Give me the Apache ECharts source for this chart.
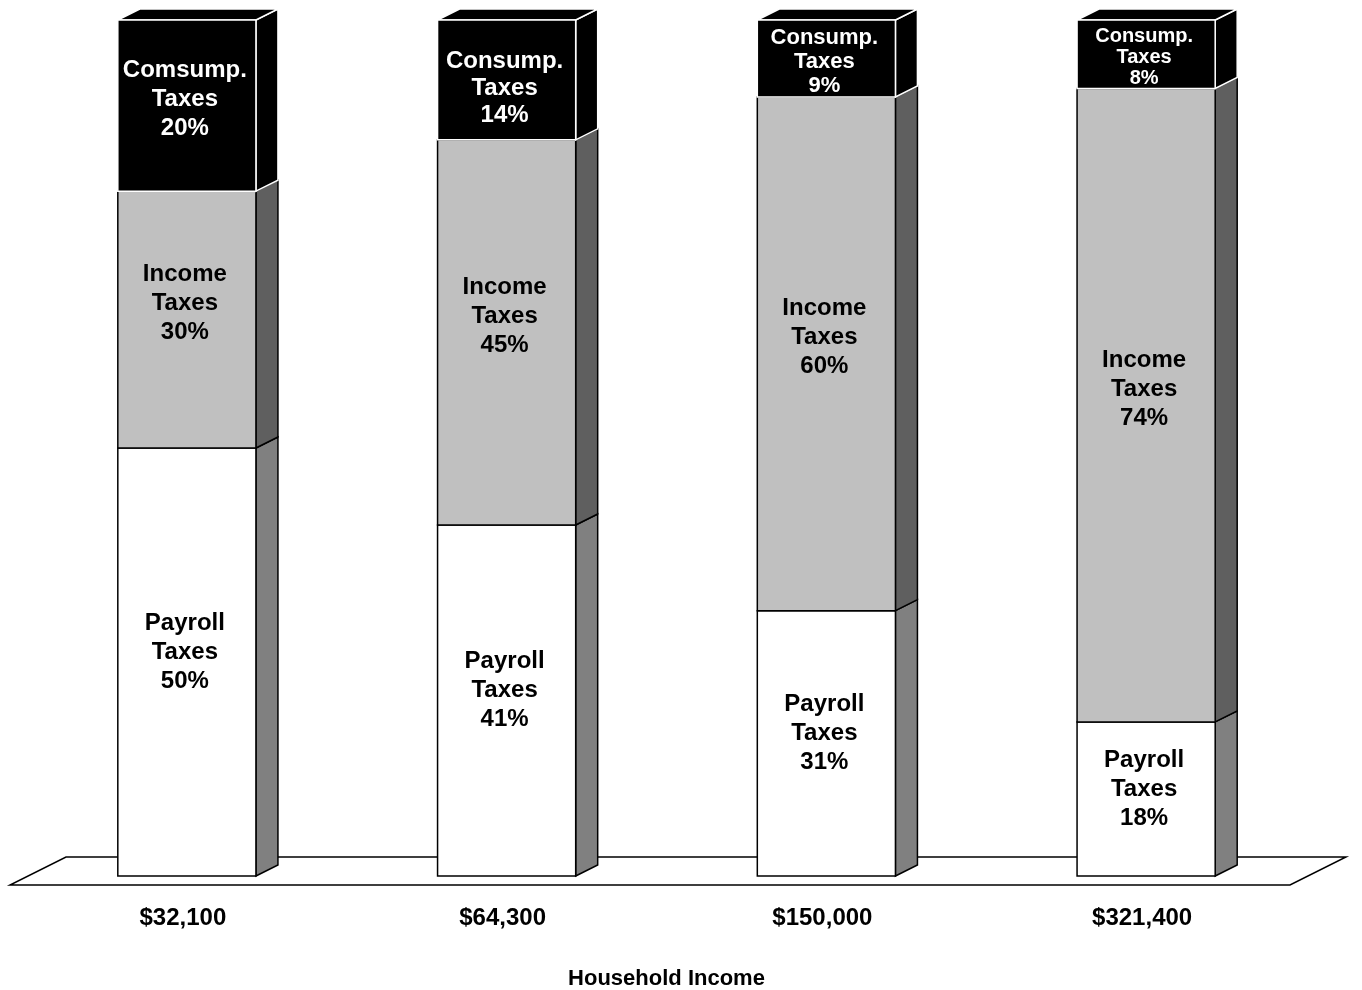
<!DOCTYPE html>
<html>
<head>
<meta charset="utf-8">
<script src="https://cdn.jsdelivr.net/npm/echarts@6/dist/echarts.min.js"></script>
<style>
html,body{margin:0;padding:0;background:#fff;}
#chart{width:1362px;height:990px;}
</style>
</head>
<body>
<div id="chart"></div>
<script>
// ---- data ----
const categories = ['$32,100', '$64,300', '$150,000', '$321,400'];
const payroll = [50, 41, 31, 18];
const income = [30, 45, 60, 74];
const consump = [20, 14, 9, 8];
const consumpNames = ['Comsump.', 'Consump.', 'Consump.', 'Consump.'];
const axisTitle = 'Household Income';

// ---- build stacked segments ----
function segs(values, bases) {
  return values.map((v, i) => [i, bases[i], bases[i] + v, v]);
}
const zeros = categories.map(() => 0);
const payrollSegs = segs(payroll, zeros);
const incomeSegs = segs(income, payroll);
const consumpSegs = segs(consump, payroll.map((p, i) => p + income[i]));

const FONT = '"Liberation Sans", Arial, Helvetica, sans-serif';
const DX = 22, DY = 11;

function makeRender(kind) {
  const styles = {
    payroll: { front: '#ffffff', side: '#808080', stroke: '#000', text: '#000', nudge: -10 },
    income: { front: '#c0c0c0', side: '#5f5f5f', stroke: '#000', text: '#000', nudge: -16 },
    consump: { front: '#000000', side: '#000000', stroke: '#fff', text: '#fff', nudge: 0 }
  }[kind];
  return function (params, api) {
    const i = api.value(0), lo = api.value(1), hi = api.value(2), v = api.value(3);
    const pLo = api.coord([i, lo]);
    const pHi = api.coord([i, hi]);
    const bw = api.size([1, 0])[0] * 0.432;
    const x0 = pLo[0] - bw / 2, x1 = pLo[0] + bw / 2;
    const yb = pLo[1], yt = pHi[1];
    const children = [];
    children.push({
      type: 'polygon',
      shape: { points: [[x1, yb], [x1 + DX, yb - DY], [x1 + DX, yt - DY], [x1, yt]] },
      style: { fill: styles.side, stroke: styles.stroke, lineWidth: 1.5 }
    });
    if (kind === 'consump') {
      children.push({
        type: 'polygon',
        shape: { points: [[x0, yt], [x1, yt], [x1 + DX, yt - DY], [x0 + DX, yt - DY]] },
        style: { fill: '#000', stroke: '#fff', lineWidth: 1.5 }
      });
    }
    children.push({
      type: 'rect',
      shape: { x: x0, y: yt, width: bw, height: yb - yt },
      style: { fill: styles.front, stroke: styles.stroke, lineWidth: 1.5 }
    });
    let label, size = 24, lh = 29, nudge = styles.nudge;
    if (kind === 'payroll') label = 'Payroll\nTaxes\n' + v + '%';
    else if (kind === 'income') label = 'Income\nTaxes\n' + v + '%';
    else {
      label = consumpNames[i] + '\nTaxes\n' + v + '%';
      if (v < 10) { size = i === 3 ? 20 : 22; lh = i === 3 ? 21 : 24; nudge = 3; }
      else if (v < 15) { lh = 27; nudge = 8; }
      else { nudge = -6; }
    }
    children.push({
      type: 'text',
      style: {
        x: pLo[0] - 2, y: (yb + yt) / 2 + nudge,
        text: label,
        align: 'center', verticalAlign: 'middle',
        fill: styles.text,
        font: 'bold ' + size + 'px ' + FONT,
        lineHeight: lh
      }
    });
    return { type: 'group', children: children };
  };
}

function renderFloor(params, api) {
  const cs = params.coordSys;
  const y0 = api.coord([0, 0])[1];
  const xl = cs.x - 17, xr = cs.x + cs.width - 16;
  return {
    type: 'polygon',
    shape: { points: [[xl, y0 + 9], [xr, y0 + 9], [xr + 56, y0 - 19], [xl + 56, y0 - 19]] },
    style: { fill: '#fff', stroke: '#000', lineWidth: 1.5 }
  };
}

const chart = echarts.init(document.getElementById('chart'), null, { renderer: 'canvas' });
chart.setOption({
  animation: false,
  backgroundColor: '#fff',
  grid: { left: 27, right: 56, top: 20, bottom: 114, containLabel: false, outerBoundsMode: 'none' },
  xAxis: {
    type: 'category',
    data: categories,
    axisLine: { show: false },
    axisTick: { show: false },
    axisLabel: { margin: 30, color: '#000', fontWeight: 'bold', fontSize: 24, fontFamily: FONT, padding: [0, 8, 0, 0] },
    name: axisTitle,
    nameLocation: 'middle',
    nameGap: 92,
    nameTextStyle: { color: '#000', fontWeight: 'bold', fontSize: 22, fontFamily: FONT }
  },
  yAxis: { type: 'value', min: 0, max: 100, show: false },
  series: [
    { type: 'custom', name: 'floor', data: [[0, 0]], renderItem: renderFloor, silent: true, z: 1 },
    { type: 'custom', name: 'Payroll Taxes', data: payrollSegs, renderItem: makeRender('payroll'), silent: true, z: 2 },
    { type: 'custom', name: 'Income Taxes', data: incomeSegs, renderItem: makeRender('income'), silent: true, z: 3 },
    { type: 'custom', name: 'Consumption Taxes', data: consumpSegs, renderItem: makeRender('consump'), silent: true, z: 4 }
  ]
});
</script>
</body>
</html>
